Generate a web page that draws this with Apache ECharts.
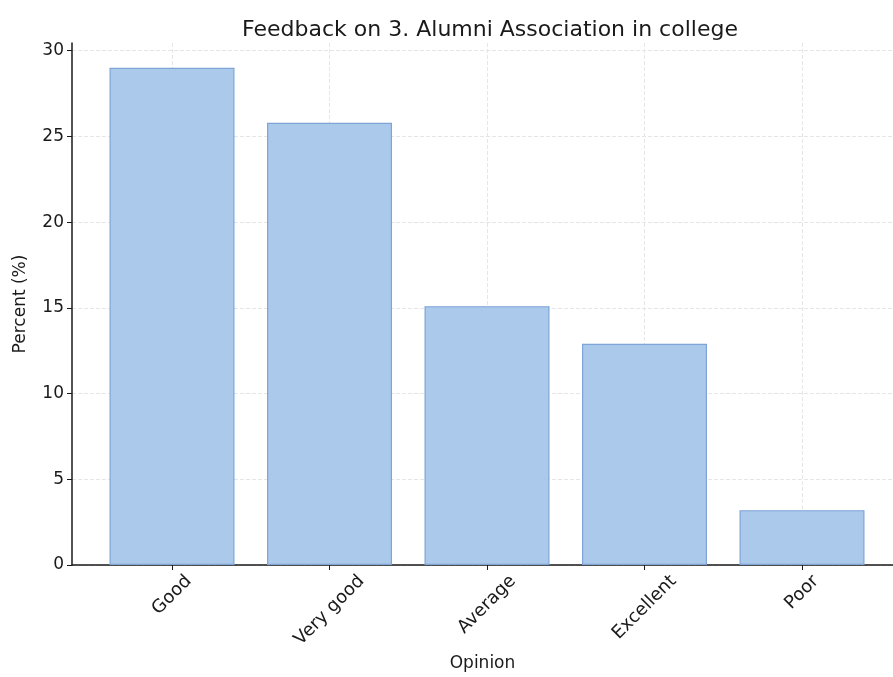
<!DOCTYPE html>
<html>
<head>
<meta charset="utf-8">
<script src="https://cdn.jsdelivr.net/npm/echarts@6/dist/echarts.min.js"></script>
<style>html,body{margin:0;padding:0;background:#fff;}#c{width:893px;height:677px;}</style>
</head>
<body>
<div id="c"></div>
<script>
const titleText = 'Feedback on 3. Alumni Association in college';
const categories = ['Good', 'Very good', 'Average', 'Excellent', 'Poor'];
const percentValues = [29.0, 25.8, 15.1, 12.9, 3.2];
const yTicks = [0, 5, 10, 15, 20, 25, 30];
const xAxisTitle = 'Opinion';
const yAxisTitle = 'Percent (%)';

const FONT = 'DejaVu Sans';
const INK = '#1a1a1a';
const TOP = 43, BOTTOM = 112;
const XLABEL_SIZE = 18;

// Emulate "rotated 45°, centred, top-aligned" tick labels:
// each label is pushed straight down by half of its rotated bounding box.
const ctx = document.createElement('canvas').getContext('2d');
ctx.font = XLABEL_SIZE + 'px "' + FONT + '"';
const rich = {};
categories.forEach((c, i) => {
  const L = ctx.measureText(c).width;
  const d = (L + XLABEL_SIZE) / (2 * Math.SQRT2);   // downward screen shift
  const a = d / Math.SQRT2;                         // local shift (down + left)
  rich['t' + i] = {
    fontFamily: FONT, fontSize: XLABEL_SIZE, color: INK,
    padding: [2 * a, 2 * a, 0, 0]
  };
});

const chart = echarts.init(document.getElementById('c'), null, {renderer: 'canvas'});
chart.setOption({
  backgroundColor: '#ffffff',
  animation: false,
  title: {
    text: titleText, left: 485, textAlign: 'center', top: 14,
    textStyle: {fontFamily: FONT, fontSize: 22, fontWeight: 'normal', color: INK}
  },
  grid: [
    {left: 172, right: 91, top: TOP, bottom: BOTTOM, containLabel: false, outerBoundsMode: 'none'},
    {left: 72, right: 0, top: TOP, bottom: BOTTOM, containLabel: false, outerBoundsMode: 'none'}
  ],
  xAxis: [
    {
      gridIndex: 0, type: 'category', data: categories, boundaryGap: false,
      axisLine: {show: false},
      axisTick: {show: true, length: 5, lineStyle: {color: INK}},
      axisLabel: {
        interval: 0, rotate: 45, align: 'center', verticalAlign: 'middle', margin: 7,
        fontFamily: FONT, fontSize: XLABEL_SIZE, color: INK,
        formatter: (v, i) => '{t' + i + '|' + v + '}',
        rich: rich
      },
      splitLine: {show: true, lineStyle: {color: '#e6e6e6', type: 'dashed'}}
    },
    {
      gridIndex: 1, type: 'value', min: 0, max: 1,
      name: xAxisTitle, nameLocation: 'middle', nameGap: 90,
      nameTextStyle: {fontFamily: FONT, fontSize: 17, color: INK},
      axisLine: {show: true, lineStyle: {color: INK, width: 1.5}},
      axisTick: {show: false}, axisLabel: {show: false}, splitLine: {show: false}
    }
  ],
  yAxis: [
    {
      gridIndex: 0, type: 'value', min: 0, max: 30.45,
      show: false, splitLine: {show: false}
    },
    {
      gridIndex: 1, type: 'value', min: 0, max: 30.45, interval: 5,
      name: yAxisTitle, nameLocation: 'middle', nameGap: 43,
      nameTextStyle: {fontFamily: FONT, fontSize: 17, color: INK},
      axisLine: {show: true, lineStyle: {color: INK, width: 1.5}},
      axisTick: {show: true, length: 5, lineStyle: {color: INK}},
      axisLabel: {
        fontFamily: FONT, fontSize: 17, color: INK, margin: 8, showMaxLabel: false,
        formatter: v => yTicks.includes(v) ? String(v) : ''
      },
      splitLine: {show: true, showMaxLine: false, lineStyle: {color: '#e6e6e6', type: 'dashed'}}
    }
  ],
  series: [{
    type: 'bar', xAxisIndex: 0, yAxisIndex: 0, data: percentValues,
    barWidth: 125, clip: false, z: 3,
    itemStyle: {color: '#abc9eb', borderColor: '#7ea5d6', borderWidth: 1.2}
  }]
});
</script>
</body>
</html>
